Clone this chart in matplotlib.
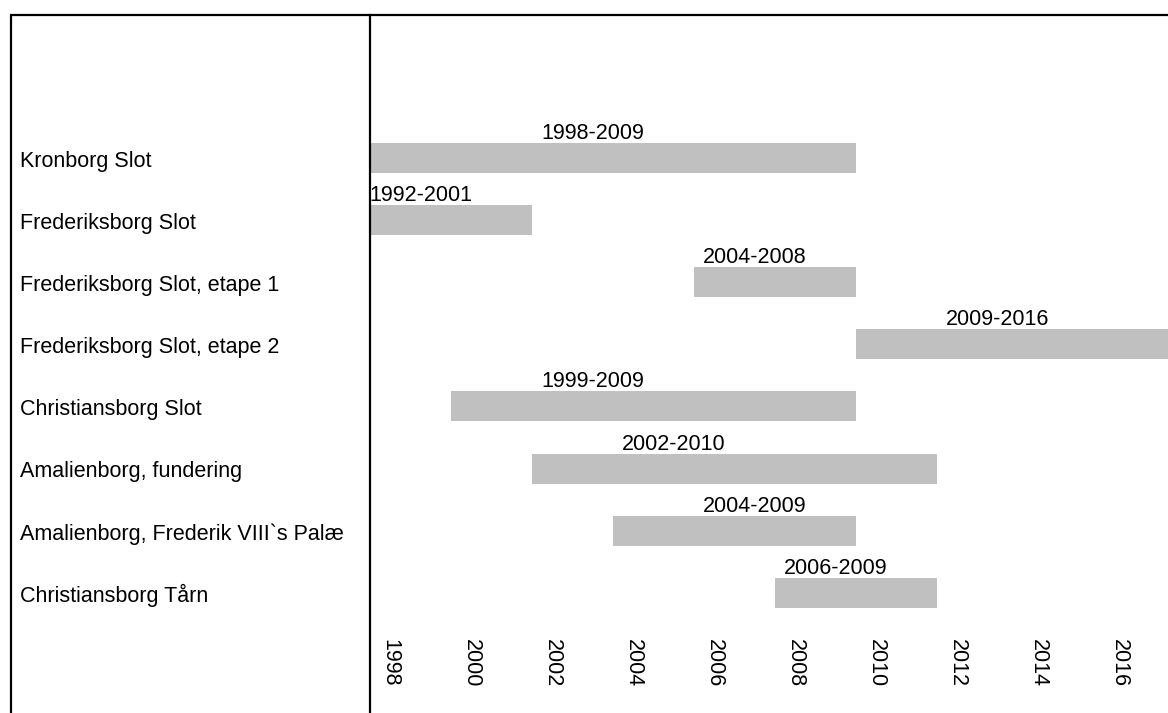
import matplotlib
matplotlib.use("Agg")
import matplotlib.pyplot as plt
from matplotlib.lines import Line2D
from matplotlib import transforms

# ---- data ----
projects = ["Kronborg Slot", "Frederiksborg Slot", "Frederiksborg Slot, etape 1",
            "Frederiksborg Slot, etape 2", "Christiansborg Slot",
            "Amalienborg, fundering", "Amalienborg, Frederik VIII`s Palæ",
            "Christiansborg Tårn"]
start_years = [1998, 1992, 2006, 2010, 2000, 2002, 2004, 2008]
end_years = [2009, 2001, 2009, 2017, 2009, 2011, 2009, 2011]
period_labels = ["1998-2009", "1992-2001", "2004-2008", "2009-2016",
                 "1999-2009", "2002-2010", "2004-2009", "2006-2009"]
period_label_x = [2003, 1998.75, 2007, 2013, 2003, 2005, 2007, 2009]
tick_years = [1998, 2000, 2002, 2004, 2006, 2008, 2010, 2012, 2014, 2016]

# ---- figure ----
W, H = 1168, 713
fig = plt.figure(figsize=(W / 100, H / 100), dpi=100)
plt.rcParams['font.family'] = ['Liberation Sans', 'DejaVu Sans']
FS = 15.5

ax_left_px, ax_top_px = 369.5, 15
ax = fig.add_axes([ax_left_px / W, 0, (W - ax_left_px) / W, (H - ax_top_px) / H])

px_per_year = 40.5
x0_year, x0_px = 1998, 390
ax.set_xlim(x0_year - (x0_px - ax_left_px) / px_per_year,
            x0_year + (W - x0_px) / px_per_year)

row0_px, row_step = 158, 62.1
ax.set_ylim((H - row0_px) / row_step, (ax_top_px - row0_px) / row_step)

bar_h = 30 / row_step
rows = list(range(len(projects)))
lefts = [s - 0.5 for s in start_years]
widths = [e - s + 1 for s, e in zip(start_years, end_years)]
ax.barh(rows, widths, left=lefts, height=bar_h, color="#c0c0c0", linewidth=0)

for r, lab, lx in zip(rows, period_labels, period_label_x):
    ax.text(lx, r - bar_h / 2 - 4 / row_step, lab, ha="center", va="baseline",
            fontsize=FS, color="black")

# category labels in left column
trans_lab = transforms.blended_transform_factory(fig.transFigure, ax.transData)
for r, name in zip(rows, projects):
    ax.text(20 / W, r + 9 / row_step, name, transform=trans_lab, ha="left",
            va="baseline", fontsize=FS, color="black", clip_on=False)

# year labels (rotated)
trans_tick = transforms.blended_transform_factory(ax.transData, fig.transFigure)
for yr in tick_years:
    ax.text(yr, 1 - 639 / H, str(yr), transform=trans_tick, rotation=270,
            ha="center", va="top", fontsize=FS, color="black",
            rotation_mode="default")

ax.set_xticks([])
ax.set_yticks([])
for s in ["top", "right", "bottom"]:
    ax.spines[s].set_visible(False)
ax.spines["left"].set_linewidth(1.6)
ax.spines["left"].set_color("black")

# outer frame lines
fig.add_artist(Line2D([9.5 / W, 1], [1 - ax_top_px / H, 1 - ax_top_px / H],
                      transform=fig.transFigure, color="black", lw=1.6,
                      solid_capstyle="butt"))
fig.add_artist(Line2D([10.5 / W, 10.5 / W], [0, 1 - ax_top_px / H],
                      transform=fig.transFigure, color="black", lw=1.6,
                      solid_capstyle="butt"))

fig.savefig("out.png", dpi=100, facecolor="white")
